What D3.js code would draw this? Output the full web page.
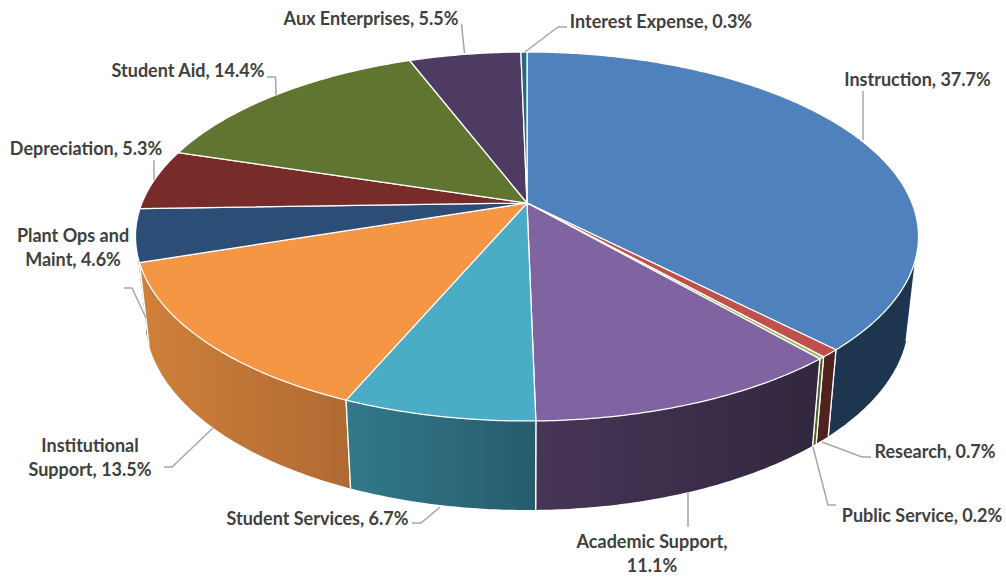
<!DOCTYPE html>
<html><head><meta charset="utf-8">
<style>html,body{margin:0;padding:0;background:#fff}svg{display:block}
text{font-family:Lato,"Open Sans",sans-serif;font-weight:700;font-size:18px;fill:#404040}</style>
<script src="https://cdn.jsdelivr.net/npm/d3@7"></script></head>
<body><div id="c"></div>
<script>
const categories = ["Instruction","Research","Public Service","Academic Support","Student Services","Institutional Support","Plant Ops and Maint","Depreciation","Student Aid","Aux Enterprises","Interest Expense"];
const values = [37.7,0.7,0.2,11.1,6.7,13.5,4.6,5.3,14.4,5.5,0.3];
const topColors = ["#4F81BD","#C0504D","#9BBB59","#8064A2","#4BACC6","#F59645","#2C4D75","#772C2A","#5F7530","#4D3B62","#276A7C"];
const sideLeft = ["#1E3550","#4F211F","#4F6228","#473557","#32798C","#CF813A","#2C4D75","#772C2A","#5F7530","#4D3B62","#276A7C"];
const sideRight = ["#1E3550","#4F211F","#4F6228","#32273F","#275C6C","#B06A32","#2C4D75","#772C2A","#5F7530","#4D3B62","#276A7C"];
const labelLines = [
 {lines:["Instruction, 37.7%"],x:917.5,y:86},
 {lines:["Research, 0.7%"],x:935,y:458},
 {lines:["Public Service, 0.2%"],x:922,y:522},
 {lines:["Academic Support,","11.1%"],x:652,y:548},
 {lines:["Student Services, 6.7%"],x:317.5,y:525},
 {lines:["Institutional","Support, 13.5%"],x:90,y:452},
 {lines:["Plant Ops and","Maint, 4.6%"],x:73,y:242},
 {lines:["Depreciation, 5.3%"],x:86,y:155},
 {lines:["Student Aid, 14.4%"],x:188,y:77},
 {lines:["Aux Enterprises, 5.5%"],x:371,y:25},
 {lines:["Interest Expense, 0.3%"],x:661,y:28}
];
const leaders = [
 [[863,91],[863,140]],
 [[822,442],[862,457],[871,457]],
 [[813,447],[828,505],[836,505]],
 [[688,493],[688,527]],
 [[440,507],[421,523],[412,523]],
 [[213,428],[172,467],[164,467]],
 [[124,288],[132,288],[146,318]],
 [[154,160],[154,180]],
 [[267,77],[275.5,77],[276,95]],
 [[461.5,24],[464.5,53]],
 [[567,27],[558,27],[525,52]]
];
const W=1006,H=578;
const cx=527,cy=203,Rx=385,Ry=178.4,k=0.1816;
const xS=d3.scaleLinear().domain([-1,1]).range([cx-Rx,cx+Rx]);
const yS=d3.scaleLinear().domain([-1,1]).range([cy+Ry,cy-Ry]);
function proj(a,r=1){ // a: clockwise from top
  const X=r*Math.sin(a),Y=r*Math.cos(a),d=1+k*Y;
  return [xS(X/d),yS(Y/d)];
}
function low(a){
  const p=proj(a),Y=Math.cos(a);
  return [cx+0.975*(p[0]-cx),p[1]+80.5-8.5*Y];
}
const pie=d3.pie().sort(null).value(d=>d)(values);
const svg=d3.select("#c").append("svg").attr("width",W).attr("height",H);
const defs=svg.append("defs");
const line=d3.line();
function samp(a0,a1){const n=Math.max(2,Math.ceil((a1-a0)/0.01));return d3.range(n+1).map(i=>a0+(a1-a0)*i/n);}
const VIS0=107*Math.PI/180,VIS1=256*Math.PI/180;
// side walls
const sides=pie.map((p,i)=>({i,a0:Math.max(p.startAngle,VIS0),a1:Math.min(p.endAngle,VIS1)})).filter(s=>s.a1>s.a0);
sides.sort((a,b)=>Math.abs(a.a0+a.a1-2*Math.PI)<Math.abs(b.a0+b.a1-2*Math.PI)?1:-1);
sides.forEach(s=>{
  const id="g"+s.i,xa=proj(s.a0)[0],xb=proj(s.a1)[0];
  const g=defs.append("linearGradient").attr("id",id).attr("gradientUnits","userSpaceOnUse")
    .attr("x1",Math.min(xa,xb)).attr("x2",Math.max(xa,xb)).attr("y1",0).attr("y2",0);
  g.append("stop").attr("offset",0).attr("stop-color",sideLeft[s.i]);
  g.append("stop").attr("offset",1).attr("stop-color",sideRight[s.i]);
  const t=samp(s.a0,s.a1);
  const pts=t.map(a=>proj(a)).concat(t.slice().reverse().map(low));
  svg.append("path").attr("d",line(pts)+"Z").attr("fill",`url(#${id})`);
  [s.a0,s.a1].forEach(a=>svg.append("path").attr("d",line([proj(a),low(a)])).attr("stroke","#fff").attr("stroke-width",1.25).attr("fill","none"));
});
// top faces
pie.forEach((p,i)=>{
  const pts=[[cx,cy]].concat(samp(p.startAngle,p.endAngle).map(a=>proj(a)));
  svg.append("path").attr("d",line(pts)+"Z").attr("fill",topColors[i])
    .attr("stroke","#fff").attr("stroke-width",1.25).attr("stroke-linejoin","round");
});
// leaders
svg.append("g").selectAll("path").data(leaders).join("path")
  .attr("d",d=>line(d)).attr("fill","none").attr("stroke","#A6A6A6").attr("stroke-width",1.5);
// labels
labelLines.forEach(l=>{
  const t=svg.append("text").attr("text-anchor","middle");
  l.lines.forEach((s,j)=>t.append("tspan").attr("x",l.x).attr("y",l.y+j*24).text(s));
});
</script></body></html>
